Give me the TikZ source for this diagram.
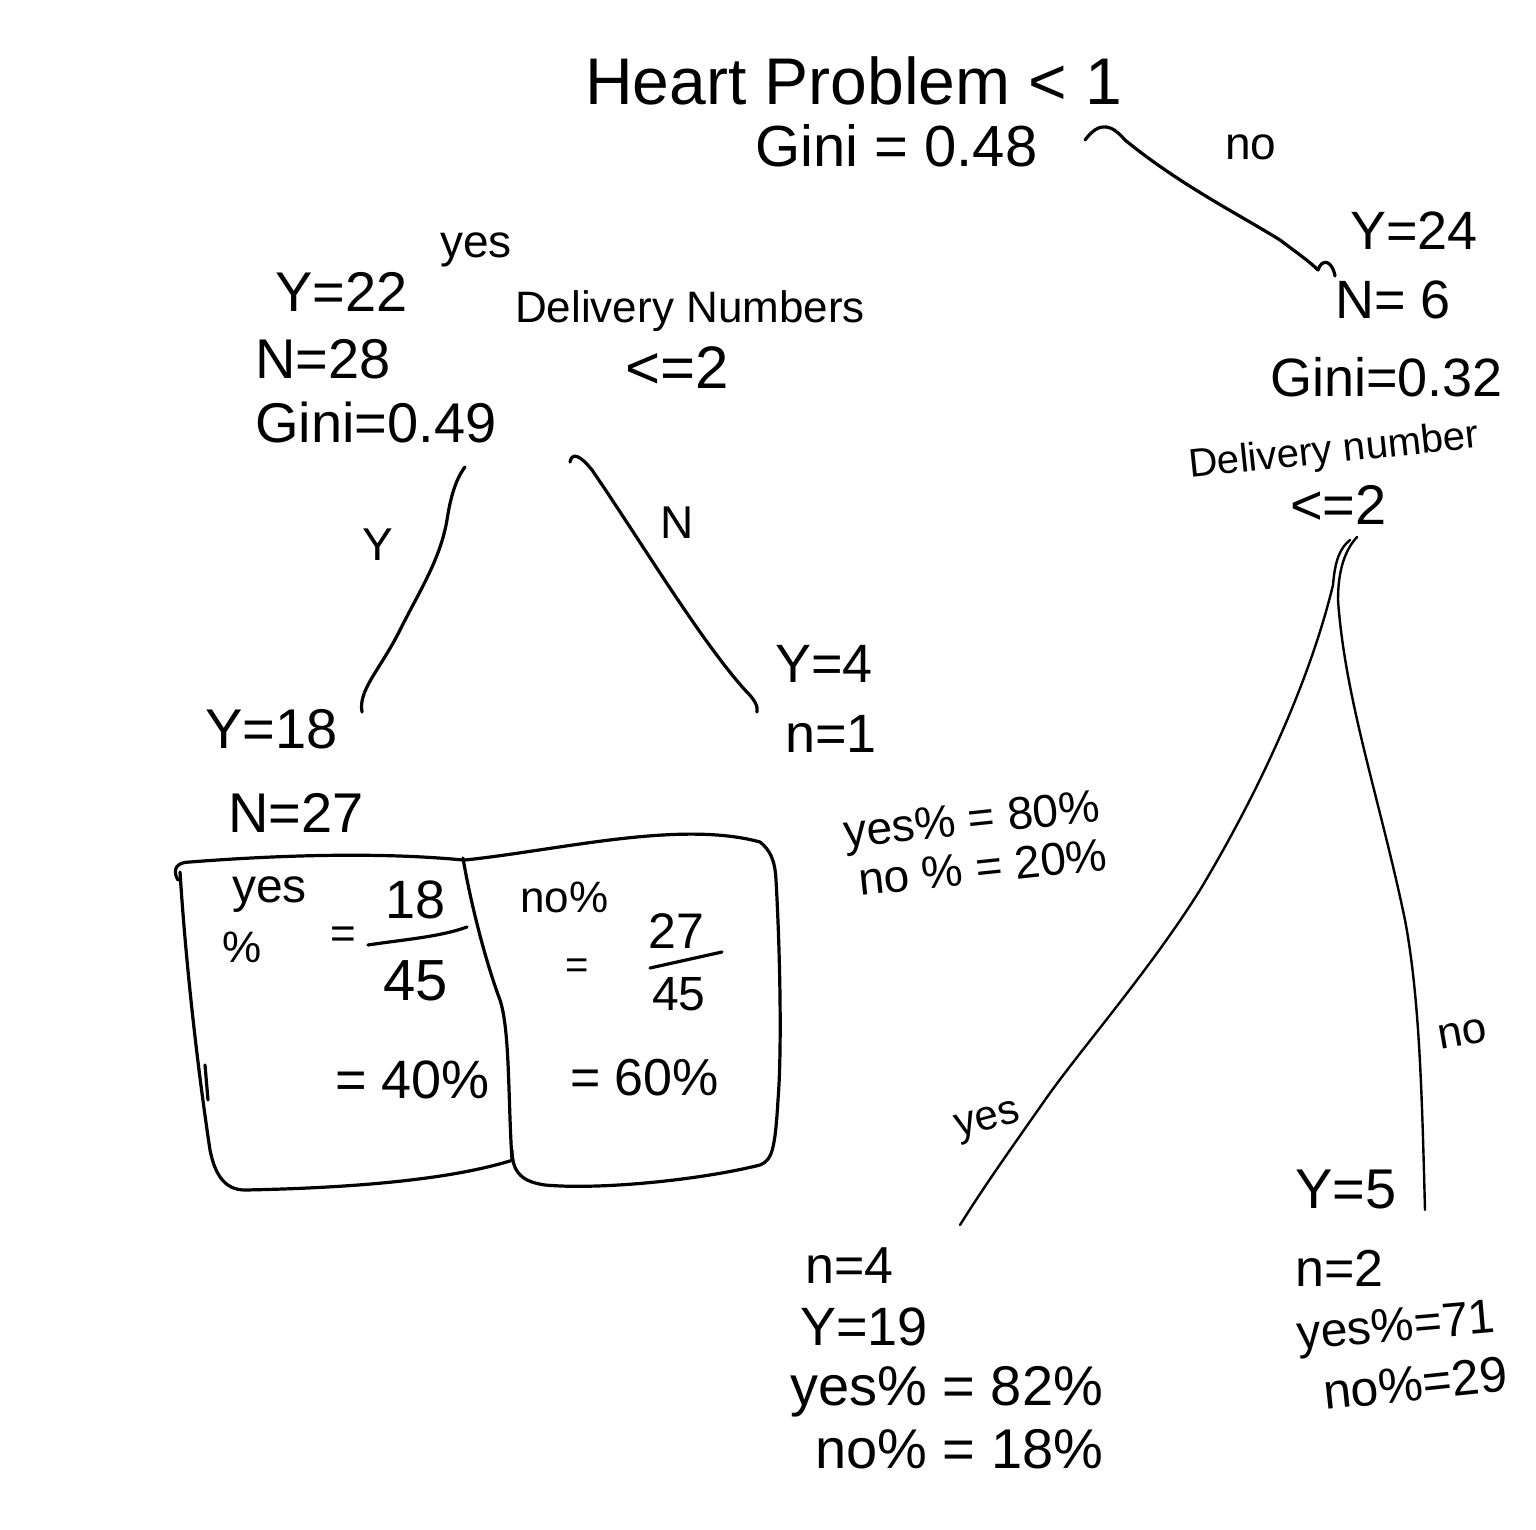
\documentclass[tikz,border=0pt]{standalone}
\usepackage{fontspec}
\setmainfont{Liberation Sans}
\tikzset{
  hw/.style={inner sep=0pt, anchor=base west, font=\fontsize{#1}{#1}\selectfont},
  hw/.default=54,
  pen/.style={line width=3.2pt, line cap=round, line join=round},
  thin pen/.style={line width=2.4pt, line cap=round, line join=round},
}
\begin{document}
\begin{tikzpicture}[x=1pt,y=-1pt]
\useasboundingbox[fill=white] (0,0) rectangle (1536,1530);

% root
\node[hw=66] (root) at (585,105) {Heart Problem < 1};
\node[hw=58] (rootgini) at (755,167) {Gini = 0.48};
\node[hw=46] (lblno1) at (1225,160) {no};
\node[hw=46] (lblyes1) at (440,258) {yes};

% left internal node
\node[hw=56] (lY) at (275,312) {Y=22};
\node[hw=56] (lN) at (255,378) {N=28};
\node[hw=56] (lG) at (255,442) {Gini=0.49};
\node[hw=44] (lQ1) at (515,322) {Delivery Numbers};
\node[hw=60] (lQ2) at (625,388) {<=2};

% right internal node
\node[hw=54] (rY) at (1350,250) {Y=24};
\node[hw=54] (rN) at (1335,318) {N= 6};
\node[hw=54] (rG) at (1270,396) {Gini=0.32};
\node[hw=40, rotate=6] (rQ1) at (1190,478) {Delivery number};
\node[hw=56] (rQ2) at (1290,524) {<=2};

% edge labels
\node[hw=46] (lblY) at (362,560) {Y};
\node[hw=46] (lblN) at (660,538) {N};
\node[hw=42, rotate=15] (lblyes2) at (958,1138) {yes};
\node[hw=44, rotate=10] (lblno2) at (1440,1050) {no};

% left-left leaf
\node[hw=56] (llY) at (205,748) {Y=18};
\node[hw=56] (llN) at (228,832) {N=27};

% box texts
\node[hw=48] (b1a) at (232,902) {yes};
\node[hw=44] (b1b) at (222,962) {\%};
\node[hw=44] (b1c) at (330,948) {=};
\node[hw=54] (b1d) at (385,918) {18};
\node[hw=58] (b1e) at (383,1000) {45};
\node[hw=54] (b1f) at (335,1098) {= 40\%};
\node[hw=44] (b2a) at (520,912) {no\%};
\node[hw=40] (b2b) at (565,978) {=};
\node[hw=50] (b2c) at (648,948) {27};
\node[hw=48] (b2d) at (652,1010) {45};
\node[hw=52] (b2e) at (570,1095) {= 60\%};

% left-right leaf
\node[hw=54] (lrY) at (775,682) {Y=4};
\node[hw=54] (lrN) at (785,752) {n=1};
\node[hw=46, rotate=6] (lrP1) at (845,848) {yes\% = 80\%};
\node[hw=46, rotate=6] (lrP2) at (860,896) {no \% = 20\%};

% right-left leaf
\node[hw=52] (rlN) at (805,1283) {n=4};
\node[hw=54] (rlY) at (800,1345) {Y=19};
\node[hw=56] (rlP1) at (790,1405) {yes\% = 82\%};
\node[hw=56] (rlP2) at (815,1468) {no\% = 18\%};

% right-right leaf
\node[hw=56] (rrY) at (1295,1208) {Y=5};
\node[hw=52] (rrN) at (1295,1286) {n=2};
\node[hw=48, rotate=5] (rrP1) at (1298,1350) {yes\%=71};
\node[hw=50, rotate=6] (rrP2) at (1325,1410) {no\%=29};

% connectors
\draw[pen] ([shift={(330,-27)}]rootgini.base west)
  .. controls (1100,120) and (1112,125) .. (1125,140)
  .. controls (1180,185) and (1240,215) .. (1280,240)
  .. controls (1300,255) and (1310,262) .. (1318,270)
  .. controls (1322,258) and (1332,260) .. ([shift={(0,-42)}]rN.base west);

\draw[pen] ([shift={(210,25)}]lG.base west)
  .. controls (455,480) and (450,500) .. (447,520)
  .. controls (440,560) and (420,590) .. (400,630)
  .. controls (380,670) and (358,690) .. ([shift={(157,-36)}]llY.base west);

\draw[pen] ([shift={(315,20)}]lG.base west)
  .. controls (572,452) and (580,455) .. (592,470)
  .. controls (640,540) and (700,640) .. (745,690)
  .. controls (755,700) and (758,706) .. ([shift={(-28,-40)}]lrN.base west);

\draw[thin pen] ([shift={(60,16)}]rQ2.base west)
  .. controls (1340,548) and (1335,560) .. (1333,585)
  .. controls (1310,680) and (1260,790) .. (1200,890)
  .. controls (1150,970) and (1080,1050) .. (1045,1100)
  .. controls (1010,1150) and (985,1185) .. ([shift={(155,-58)}]rlN.base west);

\draw[thin pen] ([shift={(67,13)}]rQ2.base west)
  .. controls (1345,550) and (1338,570) .. (1338,600)
  .. controls (1345,700) and (1380,800) .. (1405,920)
  .. controls (1420,1000) and (1422,1100) .. ([shift={(130,2)}]rrY.base west);

% boxes (drawn shapes)
\draw[pen] (178,880) .. controls (172,870) and (176,862) .. (190,862)
  .. controls (280,855) and (380,852) .. (463,860);
\draw[pen] (180,872) .. controls (185,950) and (195,1050) .. (210,1150)
  .. controls (215,1175) and (225,1190) .. (245,1190)
  .. controls (350,1188) and (450,1180) .. (513,1160);
\draw[pen] (205,1065) -- (208,1100);
\draw[pen] (463,858) .. controls (470,900) and (485,960) .. (500,1000)
  .. controls (510,1030) and (508,1100) .. (512,1160);
\draw[pen] (465,860) .. controls (560,850) and (680,820) .. (760,842)
  .. controls (770,850) and (775,860) .. (776,880)
  .. controls (780,950) and (782,1050) .. (778,1100)
  .. controls (775,1150) and (772,1160) .. (760,1165)
  .. controls (700,1180) and (600,1190) .. (545,1185)
  .. controls (525,1182) and (512,1175) .. (512,1150);
% fraction bars
\draw[pen] (368,945) .. controls (400,940) and (440,937) .. (467,927);
\draw[pen] (650,968) -- (722,952);
\end{tikzpicture}
\end{document}
